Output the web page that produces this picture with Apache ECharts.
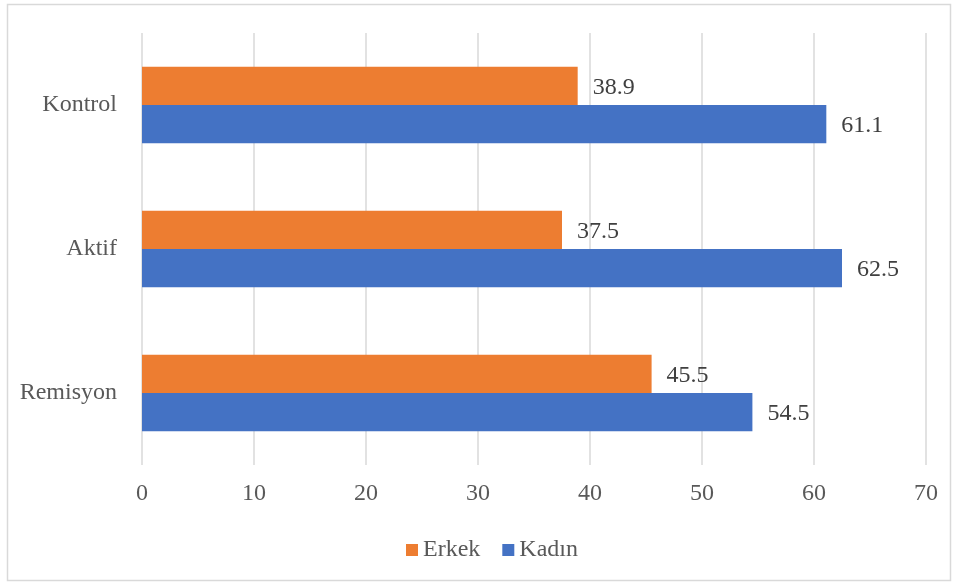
<!DOCTYPE html>
<html>
<head>
<meta charset="utf-8">
<script src="https://cdn.jsdelivr.net/npm/echarts@6/dist/echarts.min.js"></script>
<style>
  html, body { margin: 0; padding: 0; background: #fff; }
  #chart { width: 957px; height: 582px; }
</style>
</head>
<body>
<div id="chart"></div>
<script>
// Groups, listed bottom to top along the category axis
const categories = ['Remisyon', 'Aktif', 'Kontrol'];
// Share per group (%)
const erkek = [45.5, 37.5, 38.9];
const kadin = [54.5, 62.5, 61.1];
const xTicks = { min: 0, max: 70, interval: 10 };

const FONT = "'Liberation Serif', 'Times New Roman', serif";
const chart = echarts.init(document.getElementById('chart'));

const valueLabel = {
  show: true, position: 'right', distance: 15, offset: [0, 2],
  fontFamily: FONT, fontSize: 24, color: '#404040'
};

chart.setOption({
  animation: false,
  textStyle: { fontFamily: FONT },
  graphic: [{
    type: 'rect',
    shape: { x: 7.5, y: 4.5, width: 943, height: 576 },
    style: { fill: 'none', stroke: '#d9d9d9', lineWidth: 1.5 },
    silent: true
  }],
  grid: { left: 142, right: 31, top: 33, bottom: 117 },
  legend: {
    data: ['Erkek', 'Kadın'],
    left: 401,
    top: 533,
    icon: 'rect',
    itemWidth: 12,
    itemHeight: 12,
    itemGap: 22,
    textStyle: { fontFamily: FONT, fontSize: 24, color: '#595959' }
  },
  xAxis: {
    type: 'value',
    min: xTicks.min,
    max: xTicks.max,
    interval: xTicks.interval,
    axisLine: { show: false },
    axisTick: { show: false },
    splitLine: { lineStyle: { color: '#d9d9d9', width: 1.5 } },
    axisLabel: { fontFamily: FONT, fontSize: 24, color: '#595959', margin: 17 }
  },
  yAxis: {
    type: 'category',
    data: categories,
    axisLine: { show: false },
    axisTick: { show: false },
    axisLabel: { fontFamily: FONT, fontSize: 24, color: '#595959', margin: 25, padding: [3, 0, 0, 0] }
  },
  series: [
    {
      name: 'Erkek',
      type: 'bar',
      data: erkek,
      barGap: '0%',
      barCategoryGap: '47%',
      itemStyle: { color: '#ed7d31' },
      label: valueLabel
    },
    {
      name: 'Kadın',
      type: 'bar',
      data: kadin,
      barGap: '0%',
      barCategoryGap: '47%',
      itemStyle: { color: '#4472c4' },
      label: valueLabel
    }
  ]
});
</script>
</body>
</html>
